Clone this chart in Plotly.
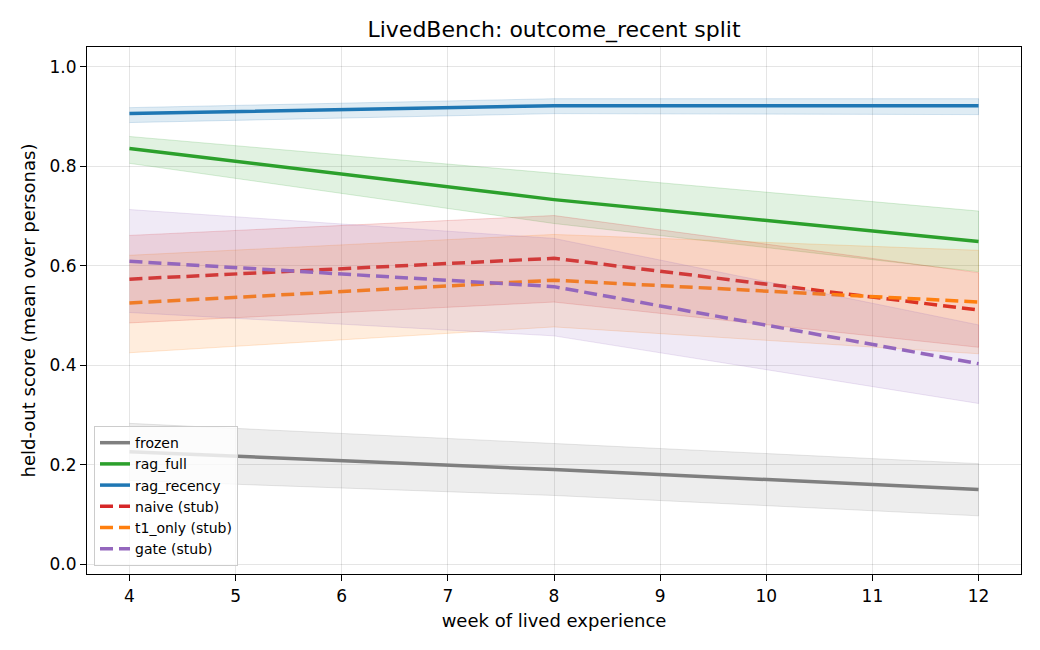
import plotly.graph_objects as go

weeks = [4, 8, 12]

frozen_mean = [0.226, 0.190, 0.150]
frozen_lo = [0.168, 0.138, 0.097]
frozen_hi = [0.283, 0.243, 0.202]

rag_full_mean = [0.836, 0.733, 0.649]
rag_full_lo = [0.806, 0.685, 0.588]
rag_full_hi = [0.860, 0.786, 0.710]

rag_recency_mean = [0.906, 0.922, 0.922]
rag_recency_lo = [0.888, 0.906, 0.904]
rag_recency_hi = [0.918, 0.936, 0.936]

naive_mean = [0.573, 0.615, 0.511]
naive_lo = [0.485, 0.527, 0.436]
naive_hi = [0.661, 0.701, 0.586]

t1_mean = [0.525, 0.571, 0.527]
t1_lo = [0.425, 0.477, 0.423]
t1_hi = [0.621, 0.663, 0.631]

gate_mean = [0.609, 0.558, 0.403]
gate_lo = [0.506, 0.459, 0.323]
gate_hi = [0.713, 0.655, 0.481]

series = [
    ("frozen", frozen_mean, frozen_lo, frozen_hi, (127, 127, 127), "solid"),
    ("rag_full", rag_full_mean, rag_full_lo, rag_full_hi, (44, 160, 44), "solid"),
    ("rag_recency", rag_recency_mean, rag_recency_lo, rag_recency_hi, (31, 119, 180), "solid"),
    ("naive (stub)", naive_mean, naive_lo, naive_hi, (214, 39, 40), "13px,6px"),
    ("t1_only (stub)", t1_mean, t1_lo, t1_hi, (255, 127, 14), "13px,6px"),
    ("gate (stub)", gate_mean, gate_lo, gate_hi, (148, 103, 189), "13px,6px"),
]

fig = go.Figure()
for i, (name, m, lo, hi, c, dash) in enumerate(series):
    r, g, b = c
    fig.add_trace(go.Scatter(
        x=weeks + weeks[::-1], y=hi + lo[::-1], fill="toself",
        fillcolor=f"rgba({r},{g},{b},0.14)",
        line=dict(color=f"rgba({r},{g},{b},0.18)", width=1),
        hoverinfo="skip", showlegend=False, mode="lines", legendgroup=f"g{i}"))
    fig.add_trace(go.Scatter(
        x=weeks, y=m, mode="lines", name=name, legendgroup=f"g{i}",
        line=dict(color=f"rgb({r},{g},{b})", width=3.5, dash=dash)))

axis_common = dict(
    showline=True, linecolor="black", linewidth=1.2, mirror=True,
    ticks="outside", ticklen=6, tickcolor="black", tickwidth=1.2,
    showgrid=True, gridcolor="rgba(0,0,0,0.1)", gridwidth=1.2,
    zeroline=False, tickfont=dict(size=17, color="black"),
)

fig.update_layout(
    width=1040, height=650,
    margin=dict(l=87, r=19, t=47, b=76),
    plot_bgcolor="white", paper_bgcolor="white",
    font=dict(family="DejaVu Sans", color="black"),
    title=dict(text="LivedBench: outcome_recent split", x=554 / 1040, xanchor="center",
               y=1 - 29 / 650, yanchor="middle", font=dict(size=22)),
    xaxis=dict(range=[3.6, 12.4], tickmode="array", tickvals=list(range(4, 13)),
               title=dict(text="week of lived experience", font=dict(size=18), standoff=9),
               **axis_common),
    yaxis=dict(range=[-0.02, 1.04], tickmode="array", tickvals=[0, 0.2, 0.4, 0.6, 0.8, 1.0],
               tickformat=".1f",
               title=dict(text="held-out score (mean over personas)", font=dict(size=18), standoff=9),
               **axis_common),
    legend=dict(x=0.0075, y=0.015, xanchor="left", yanchor="bottom",
                bgcolor="rgba(255,255,255,0.8)", bordercolor="#cccccc", borderwidth=1,
                font=dict(size=14), tracegroupgap=0, itemwidth=30),
)

fig.write_html("out.html")
